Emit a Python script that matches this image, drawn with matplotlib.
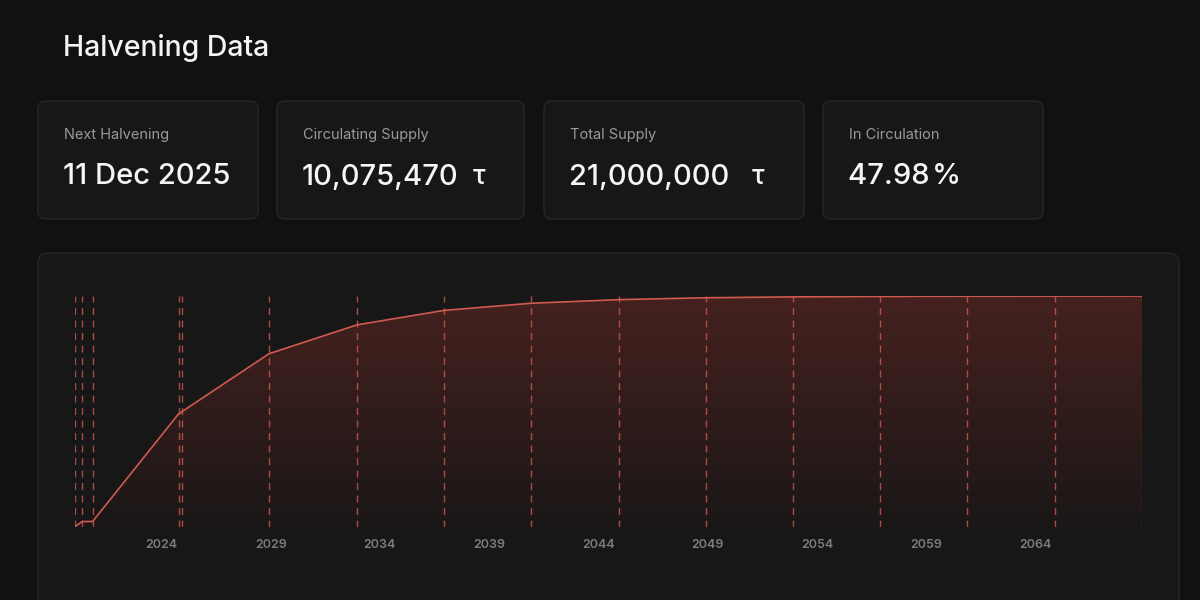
import matplotlib as mpl
mpl.use('Agg')
import matplotlib.pyplot as plt
from matplotlib.patches import FancyBboxPatch
import numpy as np

plt.rcParams['font.family'] = ['Inter', 'DejaVu Sans']

# halvening events (decimal years) and supply at each
halving_years = [2020.03, 2020.37, 2020.85, 2024.79, 2024.95, 2028.92, 2032.95,
                 2036.93, 2040.91, 2044.94, 2048.92, 2052.91, 2056.89, 2060.87,
                 2064.90, 2068.88]
supply_m = [0.0, 0.5, 0.5, 10.3, 10.5, 15.75, 18.375, 19.69, 20.34, 20.67,
            20.84, 20.92, 20.96, 20.98, 20.99, 21.0]
tick_years = [2024, 2029, 2034, 2039, 2044, 2049, 2054, 2059, 2064]

card_labels = ["Next Halvening", "Circulating Supply", "Total Supply", "In Circulation"]
card_values = ["11 Dec 2025", "10,075,470", "21,000,000", "47.98\u200a%"]
card_units = ["", "τ", "τ", ""]

BG = "#111111"
PANEL = "#171717"
EDGE = "#272727"
RED = "#cf5a50"

fig = plt.figure(figsize=(12, 6), dpi=100, facecolor=BG)

# background layer in pixel coordinates (y downwards)
bg = fig.add_axes([0, 0, 1, 1])
bg.set_xlim(0, 1200)
bg.set_ylim(600, 0)
bg.axis('off')

bg.text(63, 48, "Halvening Data", color="#f4f4f4", fontsize=20.5, fontweight='medium',
        va='center', ha='left')

card_x = [38, 277, 544, 823]
card_w = [220, 247, 260, 220]
unit_x = [0, 479, 758, 0]
for x, w, lab, val, unit, ux in zip(card_x, card_w, card_labels, card_values, card_units, unit_x):
    bg.add_patch(FancyBboxPatch((x, 101), w, 118, boxstyle="round,pad=0,rounding_size=8",
                                facecolor=PANEL, edgecolor=EDGE, linewidth=1))
    bg.text(x + 26, 135, lab, color="#9a9a9a", fontsize=10.5, va='center', ha='left')
    bg.text(x + 25, 177, val, color="#f6f6f6", fontsize=21, fontweight='medium',
            va='center', ha='left')
    if unit:
        bg.text(ux, 177, unit, color="#f6f6f6", fontsize=19, fontweight='medium',
                va='center', ha='center')

# chart panel (runs off the bottom edge)
bg.add_patch(FancyBboxPatch((38, 253), 1141, 400, boxstyle="round,pad=0,rounding_size=10",
                            facecolor=PANEL, edgecolor=EDGE, linewidth=1))

ax = fig.add_axes([74.7 / 1200, (600 - 527) / 600, (1142 - 74.7) / 1200, (527 - 296) / 600])
ax.set_facecolor('none')
ax.set_xlim(halving_years[0], halving_years[-1])
ax.set_ylim(0, 21.0)

# gradient fill under the curve
x = np.array(halving_years)
y = np.array(supply_m)
poly = ax.fill_between(x, y, 0, facecolor='none', edgecolor='none')
grad = np.zeros((256, 1, 4))
top_rgb = np.array([0.27, 0.13, 0.12])
bot_rgb = np.array([0.105, 0.09, 0.09])
t = np.linspace(0, 1, 256)[:, None]
grad[:, 0, :3] = bot_rgb + (top_rgb - bot_rgb) * t
grad[:, 0, 3] = 1.0
img = ax.imshow(grad, aspect='auto', origin='lower',
                extent=[x[0], x[-1], 0, 21.0], zorder=1, interpolation='bilinear')
clip = poly.get_paths()[0]
img.set_clip_path(clip, transform=ax.transData)

for i, hx in enumerate(halving_years):
    a = 0.5 if i == len(halving_years) - 1 else 0.8
    ax.axvline(hx, color=RED, lw=1, ls=(0, (5, 4)), alpha=a, zorder=2)

ax.plot(x, y, color=RED, lw=1.2, zorder=3, solid_joinstyle='round')

ax.set_xticks(tick_years)
ax.set_xticklabels([str(v) for v in tick_years])
ax.tick_params(axis='x', length=0, pad=9, labelcolor="#7c7c7c", labelsize=9)
for lbl in ax.get_xticklabels():
    lbl.set_fontweight('semibold')
ax.set_yticks([])
for s in ax.spines.values():
    s.set_visible(False)

fig.savefig("out.png", dpi=100, facecolor=BG)
